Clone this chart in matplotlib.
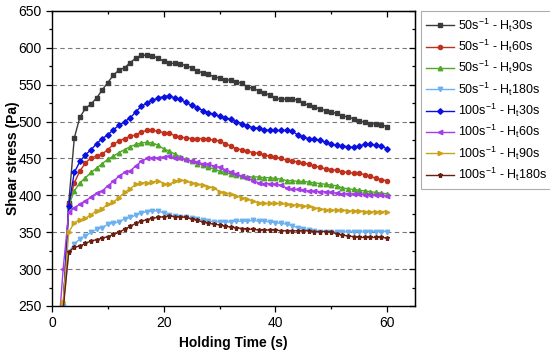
import matplotlib
matplotlib.use("Agg")
import matplotlib.pyplot as plt
from matplotlib.ticker import MultipleLocator

plt.rcParams['font.family'] = ['Liberation Sans', 'DejaVu Sans']
plt.rcParams['mathtext.fontset'] = 'custom'
plt.rcParams['mathtext.rm'] = 'Liberation Sans'
plt.rcParams['mathtext.it'] = 'Liberation Sans:italic'
plt.rcParams['mathtext.bf'] = 'Liberation Sans:bold'

time_s = list(range(1, 61))

s50_h30 = [200, 245, 390, 478, 506, 518, 524, 532, 543, 553, 563, 570, 573, 580, 586, 590, 590, 589, 586, 582,
           579, 579, 578, 576, 573, 569, 566, 564, 561, 559, 557, 556, 554, 552, 547, 545, 542, 539, 536, 532,
           530, 531, 531, 529, 525, 522, 520, 517, 515, 513, 511, 508, 506, 504, 501, 499, 497, 497, 496, 493]
s50_h60 = [200, 245, 388, 417, 433, 444, 451, 453, 456, 462, 469, 474, 477, 480, 482, 486, 488, 488, 487, 485,
           484, 481, 479, 478, 477, 477, 477, 476, 475, 474, 470, 467, 463, 462, 460, 458, 457, 455, 453, 452,
           450, 448, 447, 445, 444, 442, 440, 438, 436, 435, 434, 432, 431, 430, 430, 428, 426, 423, 421, 420]
s50_h90 = [200, 245, 386, 406, 417, 424, 431, 437, 443, 449, 453, 458, 462, 466, 469, 471, 472, 471, 468, 463,
           460, 456, 452, 449, 446, 443, 441, 438, 436, 433, 431, 429, 427, 426, 425, 425, 425, 424, 424, 423,
           422, 420, 420, 419, 419, 418, 417, 416, 415, 414, 413, 410, 409, 408, 407, 406, 405, 404, 403, 402]
s50_h180 = [200, 250, 323, 334, 341, 345, 350, 354, 356, 361, 362, 364, 368, 370, 373, 376, 378, 379, 379, 376,
            373, 372, 371, 370, 369, 368, 366, 365, 364, 364, 364, 364, 365, 365, 365, 366, 365, 365, 364, 363,
            362, 361, 359, 356, 354, 353, 352, 351, 351, 351, 350, 351, 350, 351, 351, 350, 351, 351, 351, 351]
s100_h30 = [200, 245, 386, 431, 446, 455, 462, 470, 477, 482, 489, 495, 500, 505, 513, 521, 525, 529, 532, 534,
            535, 532, 530, 526, 522, 519, 515, 512, 510, 507, 505, 503, 500, 497, 494, 492, 491, 489, 488, 488,
            488, 488, 487, 482, 479, 477, 476, 475, 472, 469, 468, 467, 466, 465, 467, 469, 469, 468, 467, 463]
s100_h60 = [200, 300, 377, 383, 388, 392, 398, 403, 406, 413, 419, 426, 431, 433, 440, 446, 450, 451, 451, 452,
            453, 451, 450, 448, 447, 445, 443, 442, 440, 438, 435, 432, 429, 426, 423, 420, 417, 416, 416, 415,
            414, 410, 408, 408, 407, 406, 406, 405, 405, 404, 403, 402, 402, 402, 402, 401, 401, 401, 400, 399]
s100_h90 = [200, 255, 350, 363, 367, 369, 374, 379, 382, 388, 391, 397, 404, 409, 415, 417, 417, 418, 420, 416,
            415, 419, 421, 419, 417, 415, 414, 412, 410, 405, 403, 402, 399, 397, 395, 392, 390, 389, 389, 389,
            389, 388, 387, 387, 386, 385, 383, 382, 380, 380, 380, 380, 379, 379, 379, 378, 378, 378, 378, 378]
s100_h180 = [200, 245, 323, 330, 331, 335, 338, 340, 342, 344, 347, 350, 354, 358, 362, 365, 367, 369, 370, 371,
             372, 371, 371, 370, 368, 366, 364, 362, 361, 360, 358, 357, 356, 355, 354, 354, 353, 353, 353, 353,
             352, 352, 352, 352, 352, 352, 351, 351, 351, 350, 348, 346, 345, 344, 343, 343, 343, 343, 343, 342]

labels = [r"50s$^{-1}$ - H$_{\rm t}$30s", r"50s$^{-1}$ - H$_{\rm t}$60s",
          r"50s$^{-1}$ - H$_{\rm t}$90s", r"50s$^{-1}$ - H$_{\rm t}$180s",
          r"100s$^{-1}$ - H$_{\rm t}$30s", r"100s$^{-1}$ - H$_{\rm t}$60s",
          r"100s$^{-1}$ - H$_{\rm t}$90s", r"100s$^{-1}$ - H$_{\rm t}$180s"]
series = [s50_h30, s50_h60, s50_h90, s50_h180, s100_h30, s100_h60, s100_h90, s100_h180]
colors = ['#3a3a3a', '#c0301c', '#4fa828', '#6cb0f0', '#0a10e0', '#a63ce8', '#c9a21a', '#6a1e10']
markers = ['s', 'o', '^', 'v', 'D', '<', '>', '*']
msizes = [2.8, 3.0, 3.2, 3.2, 2.8, 3.2, 3.2, 3.6]

fig = plt.figure(figsize=(5.5, 3.54), dpi=100)
ax = fig.add_axes([0.0945, 0.1356, 0.66, 0.8334])

for ys, lab, c, m, ms in zip(series, labels, colors, markers, msizes):
    ax.plot(time_s, ys, color=c, marker=m, markersize=ms, linewidth=1.0, label=lab)

ax.set_xlim(0, 65)
ax.set_ylim(250, 650)
ax.xaxis.set_major_locator(MultipleLocator(20))
ax.xaxis.set_minor_locator(MultipleLocator(10))
ax.yaxis.set_major_locator(MultipleLocator(50))
ax.yaxis.set_minor_locator(MultipleLocator(25))

for yv in range(300, 650, 50):
    ax.axhline(yv, color='#7a7a7a', linestyle=(0, (4, 3)), linewidth=0.8, zorder=0)

ax.tick_params(axis='both', which='major', labelsize=10, direction='out', length=4, width=0.9)
ax.tick_params(axis='both', which='minor', direction='out', length=2.5, width=0.9)

# top/right ticks inward
secx = ax.secondary_xaxis('top')
secx.set_xticks([20, 40, 60])
secx.xaxis.set_minor_locator(MultipleLocator(10))
secx.tick_params(which='major', direction='in', length=4, width=0.9)
secx.tick_params(which='minor', direction='in', length=2.5, width=0.9)
secx.set_xticklabels([])
secy = ax.secondary_yaxis('right')
secy.yaxis.set_major_locator(MultipleLocator(50))
secy.yaxis.set_minor_locator(MultipleLocator(25))
secy.tick_params(which='major', direction='in', length=4, width=0.9)
secy.tick_params(which='minor', direction='in', length=2.5, width=0.9)
secy.set_yticklabels([])

for sp in ax.spines.values():
    sp.set_linewidth(1.0)

ax.set_xlabel("Holding Time (s)", fontsize=10, fontweight='bold')
ax.set_ylabel("Shear stress (Pa)", fontsize=10, fontweight='bold')
ax.yaxis.set_label_coords(-0.088, 0.5)

leg = ax.legend(loc='upper left', bbox_to_anchor=(1.016, 1.0), fontsize=9, frameon=True,
                fancybox=False, edgecolor='#999999', handlelength=2.2, handletextpad=0.3,
                borderpad=0.45, labelspacing=0.32, borderaxespad=0.0)
leg.get_frame().set_linewidth(0.8)

fig.savefig("out.png", dpi=100)
